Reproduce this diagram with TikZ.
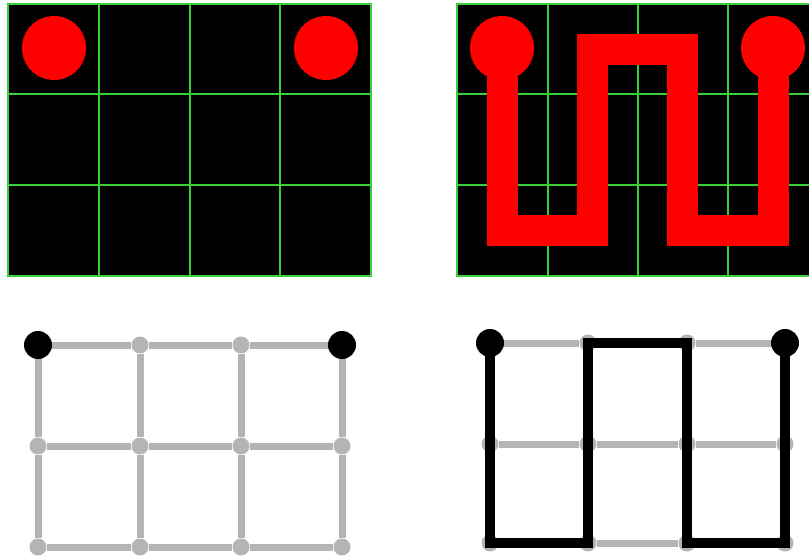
\documentclass[tikz,border=0pt]{standalone}
\usetikzlibrary{positioning}
\definecolor{gGreen}{HTML}{38D038}
\definecolor{gRed}{HTML}{FF0000}
\definecolor{gGray}{HTML}{B4B4B4}

\begin{document}
\begin{tikzpicture}[
  x=1pt, y=-1pt,
  board/.style={fill=black},
  gridline/.style={draw=gGreen, line width=2.4pt},
  pad/.style={circle, fill=gRed, minimum size=64pt, inner sep=0pt},
  trace/.style={draw=gRed, line width=31pt, line join=miter},
  vtx/.style={circle, fill=gGray, minimum size=17pt, inner sep=0pt},
  term/.style={circle, fill=black, minimum size=28pt, inner sep=0pt},
  gedge/.style={draw=gGray, line width=7pt},
  tour/.style={draw=black, line width=10pt, line join=miter},
]
  \useasboundingbox (0,0) rectangle (809,559);

  % Empty board
  \fill[board] (8,4) rectangle (371,276);
  \foreach \x in {99,190,280}
    \draw[gridline] (\x,4) -- (\x,276);
  \foreach \y in {94,185}
    \draw[gridline] (8,\y) -- (371,\y);
  \draw[gridline] (8,4) rectangle (371,276);

  \node[pad] (p1) at (54,48) {};
  \node[pad] (p2) at (326,48) {};

  % Routed board
  \fill[board] (457,4) rectangle (809,276);
  \foreach \x in {548,638,728}
    \draw[gridline] (\x,4) -- (\x,276);
  \foreach \y in {94,185}
    \draw[gridline] (457,\y) -- (809,\y);
  \draw[gridline] (810,4) -- (457,4) -- (457,276) -- (810,276);

  \node[pad] (q1) at (502,48) {};
  \node[pad] (q2) at (773,48) {};
  \draw[trace] (q1.center) -- (502,230) -- (592,230) -- (592,50)
    -- (682,50) -- (682,230) -- (773,230) -- (q2.center);

  % Grid graph
  \foreach \i/\x in {1/38,2/140,3/241,4/342}
    \foreach \j/\y in {1/345,2/446,3/547}
      \node[vtx] (a\i\j) at (\x,\y) {};
  \foreach \i in {1,...,4}
    \draw[gedge] (a\i1) -- (a\i2) -- (a\i3);
  \foreach \j in {1,2,3}
    \draw[gedge] (a1\j) -- (a2\j) -- (a3\j) -- (a4\j);
  \node[term] (s1) at (a11.center) {};
  \node[term] (s2) at (a41.center) {};

  % Hamiltonian path
  \foreach \i/\x in {1/490,2/588,3/687,4/785}
    \foreach \j/\y in {1/343,2/444,3/543}
      \node[vtx] (b\i\j) at (\x,\y) {};
  \foreach \i in {1,...,4}
    \draw[gedge] (b\i1) -- (b\i2) -- (b\i3);
  \foreach \j in {1,2,3}
    \draw[gedge] (b1\j) -- (b2\j) -- (b3\j) -- (b4\j);
  \draw[tour] (b11.center) -- (b13.center) -- (b23.center) -- (b21.center)
    -- (b31.center) -- (b33.center) -- (b43.center) -- (b41.center);
  \node[term] (t1) at (b11.center) {};
  \node[term] (t2) at (b41.center) {};
\end{tikzpicture}
\end{document}
